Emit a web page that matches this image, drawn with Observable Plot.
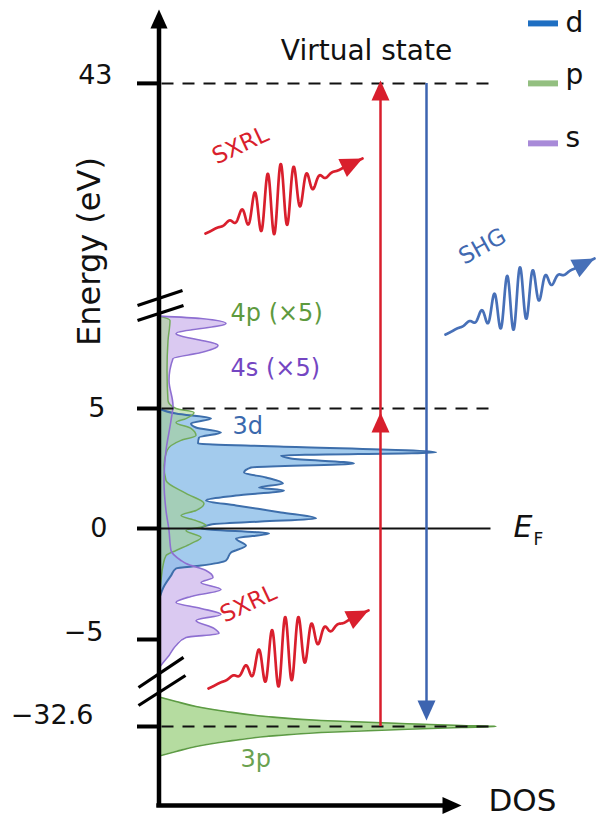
<!DOCTYPE html>
<html><head><meta charset="utf-8">
<script src="https://cdn.jsdelivr.net/npm/d3@7"></script>
<script src="https://cdn.jsdelivr.net/npm/@observablehq/plot@0.6"></script>
<style>body{margin:0;background:#fff;}#chart svg{display:block;}</style>
</head><body><div id="chart"></div>
<script>
// ---------- data (energy in eV, DOS in arbitrary units) ----------
const dE   = [5.0, 4.96, 4.79, 4.58, 4.375, 4.21, 4.0, 3.79, 3.54, 3.42, 3.17, 3.04, 2.92, 2.71, 2.54, 2.33, 2.125, 1.875, 1.71, 1.58, 1.375, 1.17, 0.96, 0.67, 0.42, 0.29, 0.17, 0.0, -0.23, -0.45, -0.77, -1.08, -1.44, -1.67, -1.80, -2.12, -2.6, -3.2];
const dDOS = [0, 0.2, 1.7, 5.2, 3.2, 3.7, 6.2, 4.0, 3.9, 12.0, 27.7, 12.2, 13.2, 19.5, 9.2, 8.5, 10.7, 12.4, 10.0, 12.5, 7.7, 4.7, 7.7, 12.2, 15.7, 10.2, 5.2, 4.2, 11.0, 7.7, 8.7, 7.2, 6.7, 4.2, 1.7, 1.2, 0.5, 0];

const pE   = [8.85, 8.67, 7.83, 6.58, 5.33, 5.0, 4.83, 4.58, 4.42, 4.17, 3.875, 3.67, 3.25, 2.625, 2.0, 1.46, 1.04, 0.75, 0.54, 0.33, 0.125, -0.09, -0.4, -0.68, -0.99, -1.22, -1.67, -2.34, -3.24];
const pDOS = [0, 1.1, 0.9, 0.8, 0.9, 1.7, 3.5, 2.7, 1.7, 3.2, 3.7, 2.2, 0.8, 0.5, 0.7, 2.7, 4.5, 3.7, 2.2, 3.7, 4.7, 2.7, 4.2, 3.2, 1.7, 0.7, 0.4, 0.2, 0];

const sE   = [8.85, 8.75, 8.54, 8.125, 7.625, 7.33, 7.08, 6.17, 5.125, 4.5, 3.25, 2.0, 0.75, -0.09, -0.99, -1.44, -1.58, -1.89, -2.21, -2.43, -2.75, -3.06, -3.33, -3.60, -3.87, -4.14, -4.50, -4.73, -4.91, -5.27, -5.72, -6.17, -6.31];
const sDOS = [0, 4.2, 6.7, 1.7, 5.9, 4.2, 1.4, 1.0, 1.4, 1.2, 0.7, 0.5, 0.7, 1.0, 1.2, 2.2, 2.7, 4.7, 5.4, 4.2, 6.2, 3.2, 1.7, 4.2, 6.2, 3.7, 5.5, 6.0, 2.7, 1.7, 1.0, 0.2, 0];

const p3E   = [-29.7, -30.1, -30.6, -31.1, -31.6, -32.0, -32.3, -32.5, -32.6, -32.7, -32.9, -33.2, -33.6, -34.1, -34.6, -35.1, -35.5];
const p3DOS = [0.2, 1.7, 3.7, 6.7, 10.7, 16.2, 24.2, 30.2, 33.7, 30.2, 24.2, 16.2, 10.7, 6.7, 3.7, 1.7, 0.2];

const tickValues = [43, 5, 0, -5, -32.6];
const tickLabels = ["43", "5", "0", "\u22125", "\u221232.6"];
const tickLabelX = [-4.65, -5.35, -5.15, -5.55, -6.55];
const tickLabelDy = [-8, 0, 0, -7, -11];

const dashedLevels = [43, 5, -32.6];
const fermiLevel = 0;

const legendKeys = ["d", "p", "s"];
const legendColors = ["#1f6fc2", "#93bf80", "#a88ad8"];
const legendE = [51.9, 43, 34.1];
const legendDy = [0, -8, -5];

// broken-axis marks
const breakX1 = [-2.15, -2.15, -2.05, -2.05];
const breakY1 = [10.04, 8.67, -22.69, -30.5];
const breakX2 = [2.35, 2.45, 2.45, 2.65];
const breakY2 = [12.26, 10.04, -5.81, -11.19];

// transitions
const sxrlX = 22.15, shgX = 26.75;
const coreLevel = -32.6, valenceTop = 5, virtualLevel = 43;

// wavy photon glyphs: SXRL (upper), SXRL (lower), SHG
const waveStartDOS = [4.65, 4.95, 28.65];
const waveStartE   = [20.72, -23.65, 8.08];
const waveTipDOS   = [20.35, 20.95, 43.55];
const waveTipE     = [31.85, -3.69, 17.01];
const waveAmp      = [34, 34, 30];
const waveCycles   = [12, 12, 11.5];
const waveCenter   = [0.46, 0.48, 0.47];
const waveSigma    = [0.18, 0.18, 0.18];
const waveColors   = ["#d91f2d", "#d91f2d", "#4770b8"];

// ---------- scales ----------
const W = 597, H = 818;
const xDomain = [-15.85, 43.85], xRange = [0, W];
const yDomain = [-41.8, -29.4, -6.4, -5, 0, 5, 9.0, 55.3];
const yRange  = [818, 694, 670, 639, 528, 408, 312, 0];
const xS = d3.scaleLinear(xDomain, xRange);
const yS = d3.scaleLinear(yDomain, yRange);

const zip = (E, D) => E.map((e, i) => ({e, dos: D[i]}));
const dData = zip(dE, dDOS), pData = zip(pE, pDOS), sData = zip(sE, sDOS), p3Data = zip(p3E, p3DOS);

const arrowHead = {draw(ctx, size) { const k = Math.sqrt(size / Math.PI); ctx.moveTo(0, 0); ctx.lineTo(0.9 * k, 2 * k); ctx.lineTo(-0.9 * k, 2 * k); ctx.closePath(); }};

function wavePoints(i) {
  const x0 = xS(waveStartDOS[i]), y0 = yS(waveStartE[i]), x1 = xS(waveTipDOS[i]), y1 = yS(waveTipE[i]);
  const pts = [];
  for (let k = 0; k <= 700; k++) {
    const t = k / 700;
    const env = Math.exp(-(((t - waveCenter[i]) / waveSigma[i]) ** 2));
    const px = x0 + t * (x1 - x0);
    const py = y0 + t * (y1 - y0) + waveAmp[i] * env * Math.sin(2 * Math.PI * waveCycles[i] * t);
    pts.push({x: xS.invert(px), y: yS.invert(py)});
  }
  return pts;
}
function waveBearing(i) {
  const dx = xS(waveTipDOS[i]) - xS(waveStartDOS[i]);
  const dy = yS(waveTipE[i]) - yS(waveStartE[i]);
  return Math.atan2(dx, -dy) * 180 / Math.PI;
}

const FONT = "DejaVu Sans";
const txt = (o) => ({fontFamily: FONT, ...o});

const marks = [
  // DOS fills
  Plot.areaX(sData, {x: "dos", y: "e", fill: "#d8c6f0", fillOpacity: 0.95, curve: "monotone-y"}),
  Plot.areaX(dData, {x: "dos", y: "e", fill: "#8fbfe9", fillOpacity: 0.82, curve: "monotone-y"}),
  Plot.areaX(pData, {x: "dos", y: "e", fill: "#a6d28c", fillOpacity: 0.55, curve: "monotone-y"}),
  Plot.areaX(p3Data, {x: "dos", y: "e", fill: "#b5dca0", curve: "monotone-y"}),
  // DOS outlines
  Plot.line(dData, {x: "dos", y: "e", stroke: "#3d6eab", strokeWidth: 2, curve: "monotone-y"}),
  Plot.line(pData, {x: "dos", y: "e", stroke: "#72ab58", strokeWidth: 1.5, curve: "monotone-y"}),
  Plot.line(sData, {x: "dos", y: "e", stroke: "#8e6fd1", strokeWidth: 1.6, curve: "monotone-y"}),
  Plot.line(p3Data, {x: "dos", y: "e", stroke: "#5d9b44", strokeWidth: 1.6, curve: "monotone-y"}),
  // level lines
  Plot.ruleY(dashedLevels, {x1: 0.3, x2: 33.8, stroke: "#111", strokeWidth: 2, strokeDasharray: "12,9"}),
  Plot.ruleY([fermiLevel], {x1: 0, x2: 33.2, stroke: "#111", strokeWidth: 2}),
  // axes
  Plot.ruleX([0], {y1: -40.7, y2: 52, stroke: "#000", strokeWidth: 4.5}),
  Plot.ruleY([-40.5], {x1: -0.22, x2: 29, stroke: "#000", strokeWidth: 4.5}),
  Plot.dot([0], {x: 0, y: 53.98, symbol: arrowHead, r: 9.5, fill: "#000", stroke: null}),
  Plot.dot([0], {x: 30.25, y: -40.5, symbol: arrowHead, r: 9.5, fill: "#000", stroke: null, rotate: 90}),
  Plot.ruleY(tickValues, {x1: -2.15, x2: 0.2, stroke: "#000", strokeWidth: 4}),
  Plot.link([0, 1, 2, 3], {x1: i => breakX1[i], y1: i => breakY1[i], x2: i => breakX2[i], y2: i => breakY2[i], stroke: "#000", strokeWidth: 3.2}),
  // transitions
  Plot.ruleX([sxrlX], {y1: coreLevel, y2: virtualLevel - 0.5, stroke: "#d81e2c", strokeWidth: 2.5}),
  Plot.dot([0], {x: sxrlX, y: virtualLevel, symbol: arrowHead, r: 10, fill: "#d81e2c", stroke: null, dy: -3}),
  Plot.dot([0], {x: sxrlX, y: valenceTop, symbol: arrowHead, r: 10, fill: "#d81e2c", stroke: null, dy: 4}),
  Plot.ruleX([shgX], {y1: virtualLevel, y2: -31.5, stroke: "#3d64b0", strokeWidth: 2.5}),
  Plot.dot([0], {x: shgX, y: coreLevel, symbol: arrowHead, r: 10, fill: "#3d64b0", stroke: null, rotate: 180, dy: -6}),
  // photon waves
  ...[0, 1, 2].flatMap(i => [
    Plot.line(wavePoints(i), {x: "x", y: "y", stroke: waveColors[i], strokeWidth: 2.7, curve: "linear"}),
    Plot.dot([0], {x: waveTipDOS[i], y: waveTipE[i], symbol: arrowHead, r: 11, fill: waveColors[i], stroke: null, rotate: waveBearing(i)})
  ]),
  // tick labels
  ...tickValues.map((v, i) => Plot.text([v], txt({x: tickLabelX[i], y: v, text: () => tickLabels[i], textAnchor: "end", fontSize: 27, fill: "#111", dy: tickLabelDy[i]}))),
  // axis titles
  Plot.text(["Energy (eV)"], txt({x: -6.95, y: 18.05, text: d => d, rotate: -90, fontSize: 32, fill: "#111"})),
  Plot.text(["DOS"], txt({x: 32.95, y: -40.1, text: d => d, textAnchor: "start", fontSize: 31, fill: "#111"})),
  Plot.text(["E"], txt({x: 35.45, y: 0.06, text: d => d, textAnchor: "start", fontSize: 30, fontStyle: "italic", fill: "#111"})),
  Plot.text(["F"], txt({x: 37.45, y: -0.5, text: d => d, textAnchor: "start", fontSize: 17, fill: "#111"})),
  Plot.text(["Virtual state"], txt({x: 20.75, y: 47.75, text: d => d, fontSize: 28, fill: "#111"})),
  // orbital labels
  Plot.text(["4p (\u00d75)"], txt({x: 7.15, y: 8.96, text: d => d, textAnchor: "start", fontSize: 24, fill: "#5e9a3e"})),
  Plot.text(["4s (\u00d75)"], txt({x: 7.15, y: 6.67, text: d => d, textAnchor: "start", fontSize: 24, fill: "#7446c2"})),
  Plot.text(["3d"], txt({x: 7.35, y: 4.25, text: d => d, textAnchor: "start", fontSize: 24, fill: "#3a69ad"})),
  Plot.text(["3p"], txt({x: 8.15, y: -35.9, text: d => d, textAnchor: "start", fontSize: 24, fill: "#6aa250"})),
  // photon labels
  Plot.text(["SXRL"], txt({x: 8.15, y: 33.8, text: d => d, rotate: -25, fontSize: 23, fill: "#d91f2d"})),
  Plot.text(["SXRL"], txt({x: 8.95, y: -3.38, text: d => d, rotate: -25, fontSize: 23, fill: "#d91f2d"})),
  Plot.text(["SHG"], txt({x: 32.35, y: 18.8, text: d => d, rotate: -29, fontSize: 23, fill: "#4068b0"})),
  // legend
  ...legendKeys.flatMap((k, i) => [
    Plot.ruleY([legendE[i]], {x1: 36.95, x2: 39.95, stroke: legendColors[i], strokeWidth: 6}),
    Plot.text([k], txt({x: 40.65, y: legendE[i], text: d => d, textAnchor: "start", fontSize: 28, fill: "#111", dy: legendDy[i]}))
  ])
];

const chart = Plot.plot({
  width: W, height: H,
  marginTop: 0, marginRight: 0, marginBottom: 0, marginLeft: 0,
  x: {type: "linear", domain: xDomain, range: xRange, axis: null},
  y: {type: "linear", domain: yDomain, range: yRange, axis: null},
  style: {background: "#fff", overflow: "visible"},
  marks
});
document.getElementById("chart").appendChild(chart);
</script>
</body></html>
